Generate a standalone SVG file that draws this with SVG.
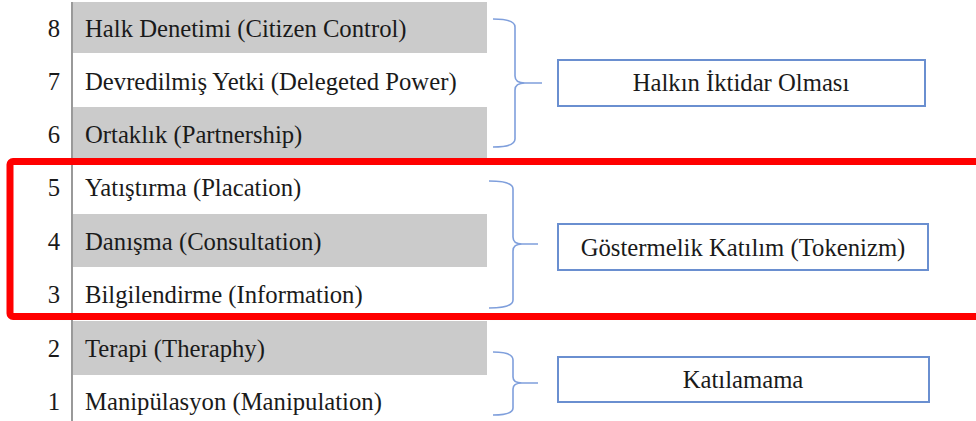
<svg xmlns="http://www.w3.org/2000/svg" width="976" height="421" viewBox="0 0 976 421">
<style>
.t{font-family:"Liberation Serif","Times New Roman",serif;font-size:24.7px;fill:#1a1a1a}
.n{text-anchor:end}
.c{text-anchor:middle}
.g{fill:#cbcbcb}
.br{fill:none;stroke:#7f9fdc;stroke-width:1.6}
.bx{fill:#fff;stroke:#6a8fd0;stroke-width:2}
</style>
<rect width="976" height="421" fill="#fff"/>
<g id="rows">
<g id="row8"><rect class="g" x="73" y="2" width="414" height="51"/><text class="t n" x="60" y="37">8</text><text class="t" x="85" y="37">Halk Denetimi (Citizen Control)</text></g>
<g id="row7"><text class="t n" x="60" y="90">7</text><text class="t" x="85" y="90">Devredilmiş Yetki (Delegeted Power)</text></g>
<g id="row6"><rect class="g" x="73" y="107" width="414" height="53"/><text class="t n" x="60" y="143">6</text><text class="t" x="85" y="143">Ortaklık (Partnership)</text></g>
<g id="row5"><text class="t n" x="60" y="196">5</text><text class="t" x="85" y="196">Yatıştırma (Placation)</text></g>
<g id="row4"><rect class="g" x="73" y="214" width="414" height="53"/><text class="t n" x="60" y="250">4</text><text class="t" x="85" y="250">Danışma (Consultation)</text></g>
<g id="row3"><text class="t n" x="60" y="303">3</text><text class="t" x="85" y="303">Bilgilendirme (Information)</text></g>
<g id="row2"><rect class="g" x="73" y="321" width="414" height="54"/><text class="t n" x="60" y="357">2</text><text class="t" x="85" y="357">Terapi (Theraphy)</text></g>
<g id="row1"><text class="t n" x="60" y="410">1</text><text class="t" x="85" y="410">Manipülasyon (Manipulation)</text></g>
</g>
<line x1="72" y1="2" x2="72" y2="421" stroke="#808080" stroke-width="1.6"/>
<g id="connectors">
<path class="br" d="M493,19 Q515,19 515,27 L515,76 Q515,83 525,83 L542,83 M525,83 Q515,83 515,90 L515,139 Q515,147 493,147"/>
<path class="br" d="M489,181 Q513,181 513,189 L513,237 Q513,244 522,244 L538,244 M522,244 Q513,244 513,251 L513,300 Q513,308 489,308"/>
<path class="br" d="M493,352 Q513,352 513,360 L513,377 Q513,383 522,383 L538,383 M522,383 Q513,383 513,389 L513,408 Q513,415 493,415"/>
</g>
<g id="box1"><rect class="bx" x="558" y="60" width="367" height="46"/><text class="t c" x="741" y="91">Halkın İktidar Olması</text></g>
<g id="box2"><rect class="bx" x="558" y="224" width="370" height="46"/><text class="t c" x="743" y="256">Göstermelik Katılım (Tokenizm)</text></g>
<g id="box3"><rect class="bx" x="558" y="357" width="371" height="45"/><text class="t c" x="743" y="388">Katılamama</text></g>
<rect id="highlight" x="10" y="161.5" width="980" height="155" rx="3" fill="none" stroke="#ff0000" stroke-width="7"/>
</svg>
